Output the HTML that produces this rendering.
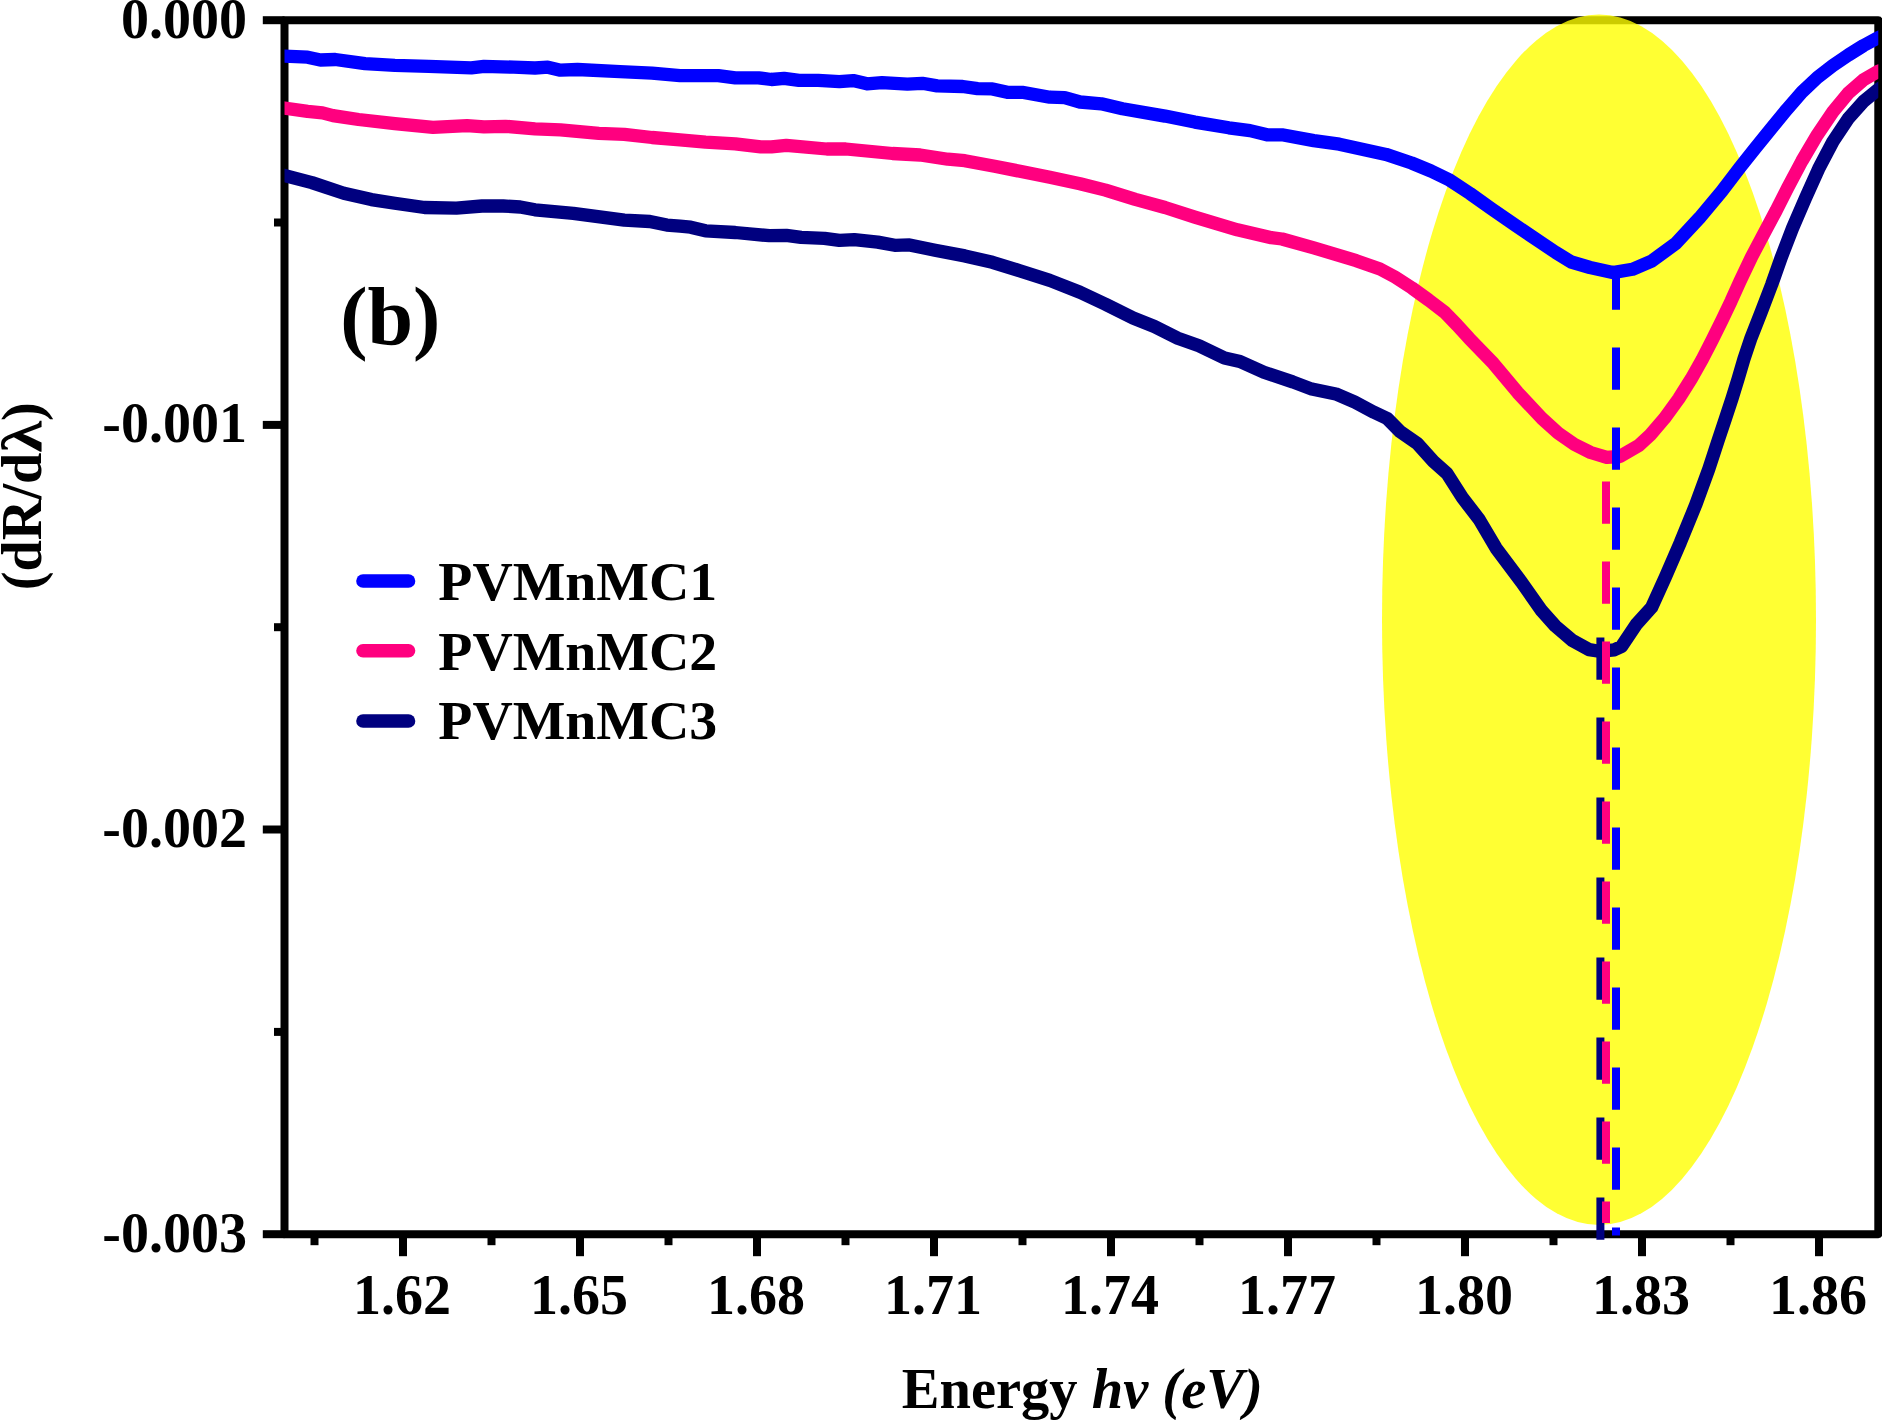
<!DOCTYPE html>
<html><head><meta charset="utf-8"><title>dR/dλ vs Energy (b)</title>
<style>
html,body{margin:0;padding:0;background:#fff;}
body{width:1882px;height:1420px;overflow:hidden;}
svg{display:block;}
text{font-family:"Liberation Serif","Times New Roman",serif;font-weight:bold;fill:#000;}
</style></head><body>
<svg width="1882" height="1420" viewBox="0 0 1882 1420">
<rect x="0" y="0" width="1882" height="1420" fill="#fff"/>
<defs><clipPath id="plot"><rect x="284.5" y="20.2" width="1593.8" height="1214.0"/></clipPath></defs>
<g stroke="#000" stroke-width="8" fill="none" stroke-linecap="butt">
<rect stroke-linejoin="round" x="284.5" y="20.2" width="1593.8" height="1214.0"/>
<line x1="262.8" y1="20.2" x2="284.5" y2="20.2"/>
<line x1="262.8" y1="424.9" x2="284.5" y2="424.9"/>
<line x1="262.8" y1="829.5" x2="284.5" y2="829.5"/>
<line x1="262.8" y1="1234.2" x2="284.5" y2="1234.2"/>
<line x1="274.0" y1="222.5" x2="284.5" y2="222.5"/>
<line x1="274.0" y1="627.2" x2="284.5" y2="627.2"/>
<line x1="274.0" y1="1031.9" x2="284.5" y2="1031.9"/>
<line x1="403.0" y1="1234.2" x2="403.0" y2="1256.2"/>
<line x1="580.0" y1="1234.2" x2="580.0" y2="1256.2"/>
<line x1="757.0" y1="1234.2" x2="757.0" y2="1256.2"/>
<line x1="934.0" y1="1234.2" x2="934.0" y2="1256.2"/>
<line x1="1111.0" y1="1234.2" x2="1111.0" y2="1256.2"/>
<line x1="1288.0" y1="1234.2" x2="1288.0" y2="1256.2"/>
<line x1="1465.0" y1="1234.2" x2="1465.0" y2="1256.2"/>
<line x1="1642.0" y1="1234.2" x2="1642.0" y2="1256.2"/>
<line x1="1819.0" y1="1234.2" x2="1819.0" y2="1256.2"/>
<line x1="314.5" y1="1234.2" x2="314.5" y2="1245.2"/>
<line x1="491.5" y1="1234.2" x2="491.5" y2="1245.2"/>
<line x1="668.5" y1="1234.2" x2="668.5" y2="1245.2"/>
<line x1="845.5" y1="1234.2" x2="845.5" y2="1245.2"/>
<line x1="1022.5" y1="1234.2" x2="1022.5" y2="1245.2"/>
<line x1="1199.5" y1="1234.2" x2="1199.5" y2="1245.2"/>
<line x1="1376.5" y1="1234.2" x2="1376.5" y2="1245.2"/>
<line x1="1553.5" y1="1234.2" x2="1553.5" y2="1245.2"/>
<line x1="1730.5" y1="1234.2" x2="1730.5" y2="1245.2"/>
</g>
<ellipse cx="1599" cy="619.8" rx="217" ry="605.2" fill="#ffff00" fill-opacity="0.8"/>
<g fill="none" stroke-width="13.3" stroke-linejoin="round" stroke-linecap="butt" clip-path="url(#plot)">
<polyline stroke="#0000ff" points="276.0,56.0 284.3,56.1 307.6,57.2 320.4,60.0 335.3,59.5 365.0,63.6 394.8,65.3 428.8,66.3 471.3,67.8 484.0,66.3 513.8,67.2 535.0,68.0 547.8,67.2 560.5,70.2 577.5,69.5 620.0,71.6 652.0,73.1 680.0,75.7 718.3,75.7 735.3,77.8 758.6,77.8 771.4,79.5 784.1,78.4 799.0,80.4 818.2,80.4 839.4,81.6 853.2,80.6 867.0,83.8 882.0,82.7 907.4,84.2 922.3,83.3 937.2,85.9 962.7,86.5 977.6,88.7 992.4,88.9 1007.3,92.3 1022.2,92.3 1049.8,97.2 1064.7,97.6 1080.0,102.0 1101.3,103.8 1122.5,108.7 1165.0,116.1 1194.8,122.1 1228.8,127.8 1250.0,130.6 1267.0,134.8 1282.0,134.8 1313.8,140.6 1339.3,144.2 1386.0,154.4 1411.6,163.0 1431.0,171.0 1448.5,179.4 1470.0,193.5 1491.6,208.9 1515.0,225.0 1539.4,241.6 1555.8,252.5 1571.3,262.0 1590.0,267.5 1612.7,272.6 1632.4,269.3 1651.6,261.2 1675.5,243.7 1699.5,217.9 1721.6,191.5 1739.7,167.8 1755.5,147.8 1771.0,128.8 1786.5,109.8 1801.9,92.2 1817.4,77.5 1832.9,65.5 1848.4,55.0 1863.6,45.5 1878.3,37.7 1890.0,32.0"/>
<polyline stroke="#ff007f" points="276.0,106.8 284.3,108.0 307.6,111.4 322.5,112.9 333.0,115.6 358.6,119.5 394.8,123.7 433.0,127.3 467.0,125.6 484.0,126.9 505.3,126.3 535.0,128.8 560.5,129.9 598.8,133.3 624.3,134.3 652.0,137.5 680.0,139.8 705.5,142.2 735.3,143.9 760.8,146.9 771.4,146.9 786.3,145.4 826.7,149.0 845.8,149.0 892.5,153.5 920.2,155.0 947.8,159.2 964.8,160.7 994.6,166.2 1020.0,171.3 1049.8,177.3 1080.0,183.7 1105.5,190.1 1135.3,199.4 1165.0,207.5 1194.8,217.1 1237.3,229.8 1271.3,237.7 1282.0,239.0 1313.8,247.9 1356.3,260.7 1380.0,269.0 1395.0,277.0 1412.0,288.0 1428.6,300.0 1444.8,312.4 1457.0,325.0 1469.1,338.3 1493.4,363.4 1517.7,392.6 1542.0,418.5 1558.2,433.1 1574.4,444.4 1590.6,452.5 1606.8,457.4 1619.8,456.5 1639.2,445.2 1650.3,434.9 1664.5,418.3 1678.8,398.6 1691.2,378.9 1702.3,359.2 1712.5,339.4 1722.2,319.7 1731.1,301.1 1740.0,281.3 1751.6,256.8 1764.8,231.9 1776.2,210.5 1787.7,187.7 1801.9,161.0 1817.4,134.7 1832.9,111.8 1848.4,93.1 1863.6,79.7 1878.3,71.2 1890.0,67.0"/>
<polyline stroke="#00007f" points="276.0,173.2 284.3,175.4 311.9,182.6 343.8,193.2 371.4,199.6 394.8,203.2 424.5,207.5 456.4,208.1 482.0,206.0 503.2,206.0 520.2,207.0 535.0,209.8 573.3,213.4 624.3,220.2 649.8,221.5 666.8,225.1 680.0,226.2 690.6,227.2 705.5,230.8 735.3,232.5 769.3,235.7 786.3,235.3 801.1,237.4 824.5,238.3 839.4,240.4 854.3,239.6 877.7,242.1 894.7,245.3 909.5,244.9 935.0,250.2 964.8,255.9 992.4,262.3 1020.0,270.8 1049.8,280.4 1080.0,292.3 1105.5,304.2 1133.1,318.0 1154.4,326.5 1177.8,338.2 1199.0,345.7 1224.5,358.0 1240.0,361.5 1263.9,372.3 1292.7,381.9 1311.8,389.1 1335.8,393.9 1354.9,402.2 1374.0,412.3 1387.2,418.5 1400.0,431.5 1417.3,443.5 1433.5,461.5 1447.0,473.5 1462.3,497.5 1479.2,519.5 1496.1,548.2 1521.4,582.0 1541.7,610.8 1555.3,626.0 1572.2,640.3 1589.1,649.6 1599.2,651.3 1614.4,649.8 1621.5,646.5 1636.4,624.3 1651.6,607.4 1665.4,576.9 1680.3,542.6 1695.6,505.1 1708.8,469.0 1718.2,440.2 1725.5,418.3 1732.0,398.6 1738.1,378.9 1743.9,359.2 1751.1,337.7 1761.1,312.3 1771.7,284.5 1781.5,256.8 1792.6,228.0 1805.6,197.8 1818.7,168.7 1832.9,141.6 1848.4,118.4 1863.6,101.4 1878.3,89.3 1890.0,82.0"/>
</g>
<g fill="none" stroke-width="8" stroke-dasharray="42.3 37.7">
<line stroke="#00007f" x1="1600.4" y1="637.5" x2="1600.4" y2="1239.9"/>
<line stroke="#ff007f" x1="1606" y1="481.5" x2="1606" y2="1223"/>
<line stroke="#0000ff" x1="1616" y1="267.4" x2="1616" y2="1235.4"/>
</g>
<g font-size="56px">
<text x="247.0" y="37.7" text-anchor="end">0.000</text>
<text x="247.0" y="442.4" text-anchor="end">-0.001</text>
<text x="247.0" y="847.0" text-anchor="end">-0.002</text>
<text x="247.0" y="1251.7" text-anchor="end">-0.003</text>
<text x="402.0" y="1313.7" text-anchor="middle">1.62</text>
<text x="579.0" y="1313.7" text-anchor="middle">1.65</text>
<text x="756.0" y="1313.7" text-anchor="middle">1.68</text>
<text x="933.0" y="1313.7" text-anchor="middle">1.71</text>
<text x="1110.0" y="1313.7" text-anchor="middle">1.74</text>
<text x="1287.0" y="1313.7" text-anchor="middle">1.77</text>
<text x="1464.0" y="1313.7" text-anchor="middle">1.80</text>
<text x="1641.0" y="1313.7" text-anchor="middle">1.83</text>
<text x="1818.0" y="1313.7" text-anchor="middle">1.86</text>
</g>
<text x="340.2" y="343.5" font-size="82px">(b)</text>
<g stroke-width="13.6" stroke-linecap="round" fill="none">
<line stroke="#0000ff" x1="363" y1="581" x2="408.5" y2="581"/>
<line stroke="#ff007f" x1="363" y1="650.8" x2="408.5" y2="650.8"/>
<line stroke="#00007f" x1="363" y1="721" x2="408.5" y2="721"/>
</g>
<g font-size="55.8px">
<text x="438.3" y="599.9">PVMnMC1</text>
<text x="438.3" y="669.6">PVMnMC2</text>
<text x="438.3" y="739.3">PVMnMC3</text>
</g>
<text x="1082.3" y="1408" font-size="56.5px" text-anchor="middle" xml:space="preserve">Energy <tspan font-style="italic">hv</tspan> <tspan font-style="italic">(eV)</tspan></text>
<text transform="translate(40.9,496.3) rotate(-90)" font-size="56.3px" text-anchor="middle">(dR/d<tspan textLength="31.5" lengthAdjust="spacingAndGlyphs">λ</tspan>)</text>
</svg>
</body></html>
